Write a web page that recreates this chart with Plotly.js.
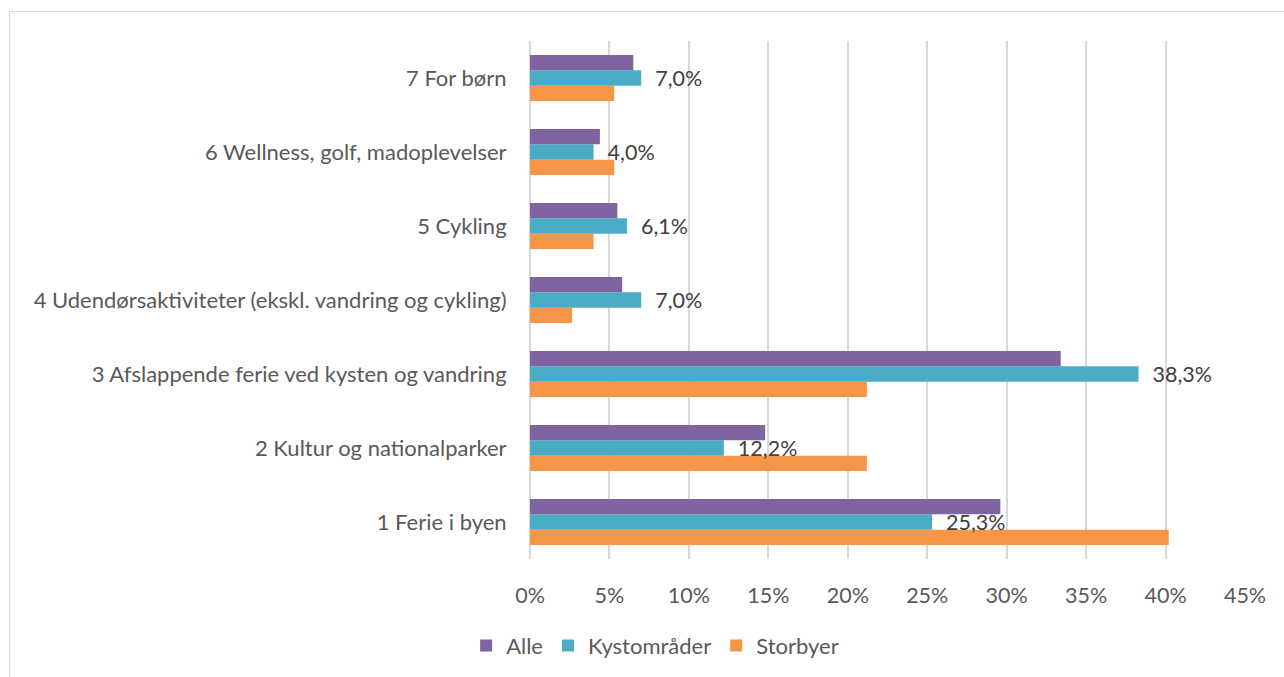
<!DOCTYPE html>
<html>
<head>
<meta charset="utf-8">
<script src="https://cdn.plot.ly/plotly-3.0.1.min.js"></script>
<style>
  body { margin: 0; background: #fff; overflow: hidden; }
  #chart { width: 1284px; height: 677px; position: absolute; left: 0; top: 0; }
  #frame { position: absolute; left: 9px; top: 11px; width: 1300px; height: 700px;
           border: 1px solid #d9d9d9; pointer-events: none; }
</style>
</head>
<body>
<div id="chart"></div>
<div id="frame"></div>
<script>
// categories, bottom to top as drawn
const categories = [
  '1 Ferie i byen',
  '2 Kultur og nationalparker',
  '3 Afslappende ferie ved kysten og vandring',
  '4 Udendørsaktiviteter (ekskl. vandring og cykling)',
  '5 Cykling',
  '6 Wellness, golf, madoplevelser',
  '7 For børn'
];

// percent values
const alle = [29.6, 14.8, 33.4, 5.8, 5.5, 4.4, 6.5];
const kystomraader = [25.3, 12.2, 38.3, 7.0, 6.1, 4.0, 7.0];
const storbyer = [40.2, 21.2, 21.2, 2.65, 4.0, 5.3, 5.3];

const xTicks = [0, 5, 10, 15, 20, 25, 30, 35, 40, 45];

const font = 'Lato, "Open Sans", sans-serif';

// horizontal bars are stacked bottom-up, so Storbyer goes first
const storbyerTrace = {
  type: 'bar', orientation: 'h',
  y: categories, x: storbyer,
  name: 'Storbyer',
  marker: {color: '#F79646'},
  hoverinfo: 'x+name'
};

const kystTrace = {
  type: 'bar', orientation: 'h',
  y: categories, x: kystomraader,
  name: 'Kystområder',
  marker: {color: '#4BACC6'},
  // two non-breaking spaces give the gap Excel leaves after the bar
  texttemplate: '\u00a0\u00a0%{x:.1f}%',
  textposition: 'outside',
  constraintext: 'none',
  cliponaxis: false,
  textfont: {family: font, size: 21.5, color: '#404040'},
  hoverinfo: 'x+name'
};

const alleTrace = {
  type: 'bar', orientation: 'h',
  y: categories, x: alle,
  name: 'Alle',
  marker: {color: '#8064A2'},
  hoverinfo: 'x+name'
};

const data = [storbyerTrace, kystTrace, alleTrace];

const layout = {
  width: 1284,
  height: 677,
  margin: {l: 530, r: 39, t: 41, b: 117},
  paper_bgcolor: '#fff',
  plot_bgcolor: '#fff',
  separators: ',.',
  font: {family: font, size: 22, color: '#595959'},
  barmode: 'group',
  bargap: 0.38,
  bargroupgap: 0,
  showlegend: true,
  legend: {
    orientation: 'h',
    traceorder: 'reversed',
    x: 0.175, xanchor: 'center',
    y: -0.165, yanchor: 'middle',
    font: {family: font, size: 22, color: '#595959'},
    itemwidth: 30
  },
  xaxis: {
    range: [0, 45],
    tickvals: xTicks,
    ticktext: xTicks.map(v => v + '%'),
    showgrid: true,
    gridcolor: '#d9d9d9',
    gridwidth: 1.5,
    zeroline: true,
    zerolinecolor: '#d9d9d9',
    zerolinewidth: 1.5,
    showline: false,
    ticks: 'outside',
    ticklen: 17,
    tickcolor: 'rgba(0,0,0,0)',
    tickfont: {family: font, size: 21.5, color: '#595959'},
    fixedrange: true
  },
  yaxis: {
    type: 'category',
    showgrid: false,
    zeroline: false,
    showline: false,
    ticks: 'outside',
    ticklen: 18,
    tickcolor: 'rgba(0,0,0,0)',
    tickfont: {family: font, size: 22, color: '#595959'},
    fixedrange: true
  }
};

Plotly.newPlot('chart', data, layout, {displayModeBar: false, responsive: false});
</script>
</body>
</html>
